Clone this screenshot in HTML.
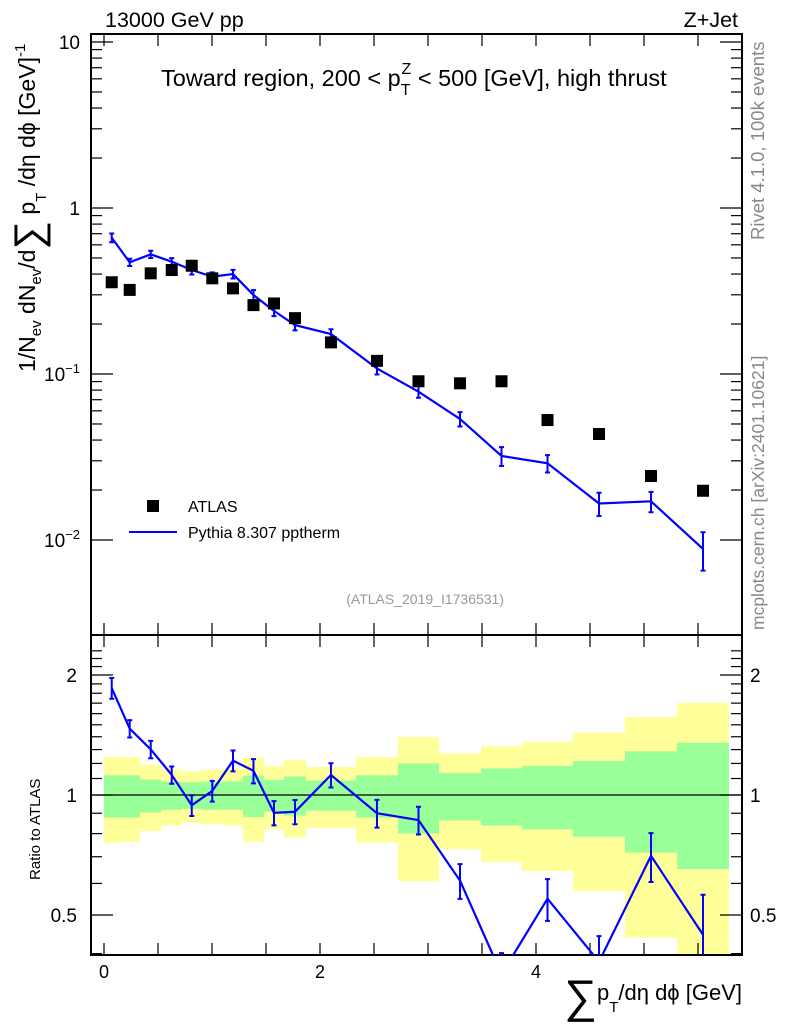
<!DOCTYPE html>
<html><head><meta charset="utf-8"><style>
html,body{margin:0;padding:0;background:#fff;}
svg{display:block;font-family:"Liberation Sans",Arial,sans-serif;}
</style></head><body>
<svg id="chart" width="786" height="1024" viewBox="0 0 786 1024" xmlns="http://www.w3.org/2000/svg">
<g id="bands"></g>
<g id="grid"></g>
<g id="marks"></g>
<text x="105" y="27" font-size="21.5">13000 GeV pp</text>
<text x="738" y="27" font-size="21.5" text-anchor="end">Z+Jet</text>
<text x="161" y="86" font-size="23.5">Toward region, 200 &lt; p<tspan font-size="16" dy="9">T</tspan><tspan font-size="16" dx="-9" dy="-21">Z</tspan><tspan dy="12"> &lt; 500 [GeV], high thrust</tspan></text>
<text transform="translate(764,240) rotate(-90)" font-size="18.5" fill="#888">Rivet 4.1.0,  100k events</text>
<text transform="translate(764,630) rotate(-90)" font-size="17.5" fill="#888">mcplots.cern.ch [arXiv:2401.10621]</text>
<text x="504" y="604" font-size="14" fill="#999" text-anchor="end">(ATLAS_2019_I1736531)</text>
<rect x="147" y="500" width="12" height="12" fill="#000"/>
<text x="188" y="512" font-size="16">ATLAS</text>
<line x1="129" y1="532" x2="177" y2="532" stroke="#0000ff" stroke-width="2"/>
<text x="188" y="538" font-size="16">Pythia 8.307 pptherm</text>
<text transform="translate(35,372) rotate(-90)" font-size="23">1/N<tspan font-size="15" dy="6">ev</tspan><tspan dy="-6"> dN</tspan><tspan font-size="15" dy="6">ev</tspan><tspan dy="-6">/d</tspan><tspan font-size="40" dy="7">∑</tspan><tspan dy="-7"> p</tspan><tspan font-size="15" dy="11">T</tspan><tspan dy="-11"> /dη dϕ  [GeV]</tspan><tspan font-size="15" dy="-10">-1</tspan></text>
<text transform="translate(40,880) rotate(-90)" font-size="15">Ratio to ATLAS</text>
<text x="742" y="1000" font-size="22" text-anchor="end"><tspan font-size="46" dy="12">∑</tspan><tspan dy="-12">p</tspan><tspan font-size="15" dy="12">T</tspan><tspan dy="-12">/dη dϕ [GeV]</tspan></text>
</svg>
<script>
const edges=[0,0.143,0.333,0.532,0.722,0.903,1.102,1.287,1.481,1.667,1.870,2.333,2.722,3.102,3.491,3.870,4.343,4.824,5.306,5.787];
const atlas=[0.357,0.321,0.404,0.423,0.449,0.377,0.328,0.260,0.266,0.217,0.155,0.120,0.0904,0.0879,0.0904,0.0528,0.0435,0.0243,0.0198];
const pythia=[0.662,0.471,0.526,0.475,0.423,0.386,0.400,0.299,0.240,0.197,0.174,0.108,0.0782,0.0536,0.0321,0.0290,0.0166,0.0171,0.00883];
const pythiaRelErr=[0.06,0.05,0.05,0.05,0.06,0.06,0.06,0.07,0.07,0.07,0.07,0.08,0.08,0.10,0.13,0.12,0.16,0.14,0.26];
const yellowUp=[1.246,1.246,1.191,1.159,1.146,1.157,1.166,1.241,1.18,1.222,1.175,1.246,1.397,1.272,1.326,1.359,1.433,1.570,1.703];
const greenUp=[1.121,1.121,1.093,1.079,1.075,1.079,1.083,1.119,1.091,1.113,1.087,1.121,1.2,1.135,1.166,1.182,1.217,1.287,1.352];
const greenLo=[0.878,0.878,0.904,0.918,0.923,0.918,0.918,0.880,0.909,0.888,0.913,0.878,0.801,0.863,0.838,0.820,0.786,0.717,0.652];
const yellowLo=[0.759,0.763,0.812,0.838,0.853,0.845,0.838,0.763,0.820,0.781,0.828,0.759,0.608,0.731,0.679,0.645,0.574,0.439,0.35];
const xTicks=[0,0.5,1,1.5,2,2.5,3,3.5,4,4.5,5,5.5];
const xLabels=[0,2,4];
const mainDecades=[-2,-1,0,1];
const ratioLabels=[0.5,1,2];

const NS="http://www.w3.org/2000/svg";
const L=91,R=742,T=34,M=635,B=955;
const X=v=>104+108*v;
const Y=v=>208-166*Math.log10(v);
const RY=v=>795-398.6*Math.log10(v);
function mk(tag,attrs,parent){const e=document.createElementNS(NS,tag);for(const k in attrs)e.setAttribute(k,attrs[k]);parent.appendChild(e);return e;}
const gB=document.getElementById('bands'),gG=document.getElementById('grid'),gM=document.getElementById('marks');

for(let i=0;i<atlas.length;i++){
  const x0=X(edges[i]),x1=X(i+1<edges.length?edges[i+1]:edges[i]+0.48);
  const top1=Math.max(RY(yellowUp[i]),M),bot1=Math.min(RY(yellowLo[i]),B);
  const y=mk('rect',{x:x0,y:top1,width:x1-x0,height:bot1-top1,fill:'#ffff99'},gB);
  
  
  const g=mk('rect',{x:x0,y:RY(greenUp[i]),width:x1-x0,height:RY(greenLo[i])-RY(greenUp[i]),fill:'#99ff99'},gB);
  
  
}
for(const [t,b] of [[T,M],[M,B]]){
  const f=mk('rect',{x:L,y:t,width:R-L,height:b-t,fill:'none',stroke:'#000','stroke-width':2},gG);
  
  
}
const one=mk('line',{x1:L,x2:R,y1:RY(1),y2:RY(1),stroke:'#000','stroke-width':1.2},gG);


for(const v of xTicks){
  for(const [y0,d] of [[T,1],[M,-1],[M,1],[B,-1]]){
    const t=mk('line',{x1:X(v),x2:X(v),y1:y0,y2:y0+d*12,stroke:'#000','stroke-width':1.2},gG);
    
    
  }
}
for(const v of xLabels){
  const t=mk('text',{x:X(v),y:978,'font-size':18,'text-anchor':'middle'},gG);t.textContent=v;
  
  
}
for(const d of mainDecades){
  for(let m=1;m<10;m++){
    const v=m*Math.pow(10,d),y=Y(v);
    if(y<T||y>M)continue;
    const len=m===1?22:11;
    for(const [x0,s] of [[L,1],[R,-1]]){
      const t=mk('line',{x1:x0,x2:x0+s*len,y1:y,y2:y,stroke:'#000','stroke-width':1.2},gG);
      
      
    }
  }
  const lab=mk('text',{x:80,y:Y(Math.pow(10,d))+7,'font-size':19,'text-anchor':'end'},gG);
  if(d>=0){lab.textContent=String(Math.pow(10,d));}
  else{lab.textContent='10';const s=mk('tspan',{'font-size':13,dy:-8},lab);s.textContent='−'+(-d);}
  
  
}
for(let k=3;k<=23;k++){
  const v=k/10,y=RY(v);
  if(y<M||y>B)continue;
  const major=ratioLabels.includes(v);
  const len=major?22:11;
  for(const [x0,s] of [[L,1],[R,-1]]){
    const t=mk('line',{x1:x0,x2:x0+s*len,y1:y,y2:y,stroke:'#000','stroke-width':1.2},gG);
    
    
  }
}
for(const v of ratioLabels){
  for(const [x,a] of [[77,'end'],[750,'start']]){
    const t=mk('text',{x:x,y:RY(v)+7,'font-size':19,'text-anchor':a},gG);t.textContent=v;
    
    
  }
}
const cx=i=>X((edges[i]+(i+1<edges.length?edges[i+1]:edges[i]+0.48))/2);
let pts=[];
for(let i=0;i<pythia.length;i++)pts.push(cx(i)+','+Y(pythia[i]));
const pl=mk('polyline',{points:pts.join(' '),fill:'none',stroke:'#0000ff','stroke-width':2.2},gM);


for(let i=0;i<pythia.length;i++){
  const x=cx(i),e=pythia[i]*pythiaRelErr[i];
  const y1=Y(pythia[i]+e),y2=Y(pythia[i]-e);
  const eb=mk('path',{d:`M${x},${y1}V${y2}M${x-2.5},${y1}h5M${x-2.5},${y2}h5`,stroke:'#0000ff','stroke-width':2,fill:'none'},gM);
  
  
  const sq=mk('rect',{x:x-6,y:Y(atlas[i])-6,width:12,height:12,fill:'#000'},gM);
  
  
}
const clip=mk('clipPath',{id:'rc'},gM);mk('rect',{x:L,y:M,width:R-L,height:B-M},clip);
const rg=mk('g',{'clip-path':'url(#rc)'},gM);


pts=[];
for(let i=0;i<pythia.length;i++)pts.push(cx(i)+','+RY(pythia[i]/atlas[i]));
const rl=mk('polyline',{points:pts.join(' '),fill:'none',stroke:'#0000ff','stroke-width':2.2},rg);


for(let i=0;i<pythia.length;i++){
  const x=cx(i),r=pythia[i]/atlas[i],e=r*pythiaRelErr[i];
  const y1=RY(r+e),y2=RY(r-e);
  const eb=mk('path',{d:`M${x},${y1}V${y2}M${x-2.5},${y1}h5M${x-2.5},${y2}h5`,stroke:'#0000ff','stroke-width':2,fill:'none'},rg);
  
  
}
</script>
</body></html>
